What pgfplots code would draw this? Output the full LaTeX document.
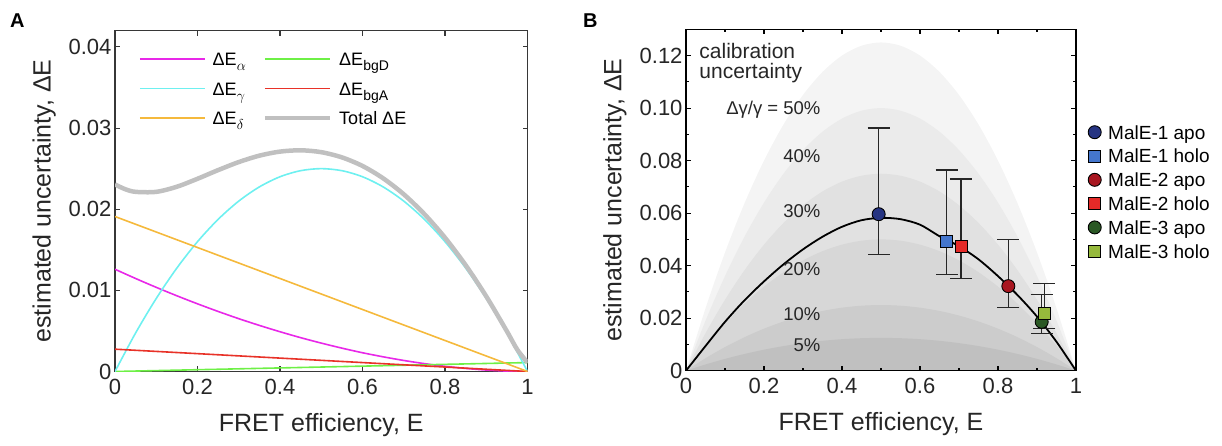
\documentclass[border=0pt]{standalone}
\usepackage{pgfplots}
\pgfplotsset{compat=1.18}
\usepackage{fontspec}
\setmainfont{Liberation Sans}
\definecolor{txt}{RGB}{38,38,38}
\definecolor{cmag}{RGB}{232,40,232}
\definecolor{ccya}{RGB}{110,240,240}
\definecolor{cora}{RGB}{245,185,60}
\definecolor{cgre}{RGB}{110,240,70}
\definecolor{cred}{RGB}{232,50,40}
\definecolor{cgry}{RGB}{192,192,192}
\definecolor{frameA}{RGB}{55,55,55}
\definecolor{g50}{RGB}{244,244,244}
\definecolor{g40}{RGB}{235,235,235}
\definecolor{g30}{RGB}{225,225,225}
\definecolor{g20}{RGB}{215,215,215}
\definecolor{g10}{RGB}{204,204,204}
\definecolor{g05}{RGB}{192,192,192}
\definecolor{mnavy}{RGB}{38,52,130}
\definecolor{mblue}{RGB}{68,118,205}
\definecolor{mdred}{RGB}{168,22,32}
\definecolor{mred}{RGB}{228,42,40}
\definecolor{mdgreen}{RGB}{42,88,36}
\definecolor{molive}{RGB}{150,185,60}
\newcommand{\lsub}[1]{\raisebox{-5pt}{\fontsize{14}{14}\selectfont #1}}
\newcommand{\strA}{\rule{0pt}{15.7pt}}
\newcommand{\strB}{\rule[-5pt]{0pt}{23.6pt}}
\begin{document}
\begin{tikzpicture}[x=1pt,y=1pt]
\useasboundingbox (0,0) rectangle (1222,446);
\node[anchor=north west, inner sep=0pt, font=\fontsize{20}{24}\selectfont\bfseries] at (10,432) {A};
\node[anchor=north west, inner sep=0pt, font=\fontsize{20}{24}\selectfont\bfseries] at (583,432) {B};
% ---------------- Panel A ----------------
\begin{axis}[
  at={(115pt,74.5pt)}, anchor=south west, scale only axis,
  width=412.5pt, height=340.8pt,
  xmin=0, xmax=1, ymin=0, ymax=0.042,
  scaled y ticks=false, scaled x ticks=false,
  xtick={0,0.2,0.4,0.6,0.8,1}, xticklabels={0,0.2,0.4,0.6,0.8,1},
  ytick={0,0.01,0.02,0.03,0.04}, yticklabels={0,0.01,0.02,0.03,0.04},
  tick align=inside, major tick length=5pt,
  axis line style={line width=1.2pt, frameA},
  tick style={line width=1.1pt, frameA},
  /pgf/number format/assume math mode=true,
  tick label style={font=\fontsize{22}{26}\selectfont, text=txt},
  xticklabel style={yshift=-4pt},
  label style={font=\fontsize{25}{30}\selectfont, text=txt},
  xlabel={FRET efficiency, E},
  ylabel={estimated uncertainty, ΔE},
  xlabel style={at={(axis description cs:0.5,-0.157)}, anchor=center},
  ylabel style={at={(axis description cs:-0.172,0.5)}, anchor=center},
  legend columns=2,
  legend cell align=left,
  legend style={draw=none, fill=none, inner sep=0pt,
    at={(axis description cs:0.058,0.9431)}, anchor=north west,
    font=\fontsize{18}{20}\selectfont,
    nodes={inner sep=0pt},
    row sep=12.3pt, column sep=7pt},
]
\addplot[cmag, line width=1.6pt, smooth,
  legend image code/.code={\draw[cmag, line width=1.6pt] (0pt,0pt) -- (65pt,0pt);}] coordinates {
(0,0.01260) (0.05,0.01146) (0.1,0.01037) (0.15,0.00933) (0.2,0.00834) (0.25,0.00740)
(0.3,0.00651) (0.35,0.00568) (0.4,0.00490) (0.45,0.00417) (0.5,0.00350) (0.55,0.00288)
(0.6,0.00231) (0.65,0.00181) (0.7,0.00136) (0.75,0.00097) (0.8,0.00064) (0.85,0.00038)
(0.9,0.00018) (0.95,0.00005) (1,0)};
\addlegendentry{\makebox[43pt][l]{ΔE\lsub{$\alpha$}}\strA}
\addplot[cgre, line width=1.6pt,
  legend image code/.code={\draw[cgre, line width=1.6pt] (0pt,0pt) -- (65pt,0pt);}] coordinates {(0,0) (1,0.0011)};
\addlegendentry{ΔE\lsub{bgD}\strA}
\addplot[ccya, line width=1.6pt, smooth,
  legend image code/.code={\draw[ccya, line width=1.6pt] (0pt,0pt) -- (65pt,0pt);}] coordinates {
(0,0) (0.05,0.00475) (0.1,0.009) (0.15,0.01275) (0.2,0.016) (0.25,0.01875) (0.3,0.021)
(0.35,0.02275) (0.4,0.024) (0.45,0.02475) (0.5,0.025) (0.55,0.02475) (0.6,0.024)
(0.65,0.02275) (0.7,0.021) (0.75,0.01875) (0.8,0.016) (0.85,0.01275) (0.9,0.009)
(0.95,0.00475) (1,0)};
\addlegendentry{\makebox[43pt][l]{ΔE\lsub{$\gamma$}}\strA}
\addplot[cred, line width=1.6pt,
  legend image code/.code={\draw[cred, line width=1.6pt] (0pt,0pt) -- (65pt,0pt);}] coordinates {(0,0.00275) (1,0)};
\addlegendentry{ΔE\lsub{bgA}\strA}
\addplot[cora, line width=1.6pt,
  legend image code/.code={\draw[cora, line width=1.6pt] (0pt,0pt) -- (65pt,0pt);}] coordinates {(0,0.0191) (1,0)};
\addlegendentry{\makebox[43pt][l]{ΔE\lsub{$\delta$}}\strA}
\addplot[cgry, line width=4.5pt, smooth,
  legend image code/.code={\draw[cgry, line width=4.5pt] (0pt,0pt) -- (65pt,0pt);}] coordinates {
(0,0.02305) (0.025,0.02246) (0.05,0.02214) (0.1,0.02214) (0.15,0.02277) (0.2,0.02375)
(0.25,0.02482) (0.3,0.02581) (0.35,0.02660) (0.4,0.02710) (0.45,0.02726) (0.5,0.02703)
(0.55,0.02639) (0.6,0.02533) (0.65,0.02381) (0.7,0.02184) (0.75,0.01940) (0.8,0.01649)
(0.85,0.01311) (0.9,0.00926) (0.95,0.00496) (0.975,0.00271) (1,0.0011)};
\addlegendentry{Total ΔE\strA}
\end{axis}
% ---------------- Panel B ----------------
\begin{axis}[
  at={(686pt,75.3pt)}, anchor=south west, scale only axis,
  width=390pt, height=341.4pt,
  xmin=0, xmax=1, ymin=0, ymax=0.13,
  scaled y ticks=false, scaled x ticks=false,
  axis on top,
  xtick={0,0.2,0.4,0.6,0.8,1}, xticklabels={0,0.2,0.4,0.6,0.8,1},
  minor xtick={0.1,0.3,0.5,0.7,0.9},
  ytick={0,0.02,0.04,0.06,0.08,0.1,0.12}, yticklabels={0,0.02,0.04,0.06,0.08,0.10,0.12},
  minor ytick={0.01,0.03,0.05,0.07,0.09,0.11},
  tick align=inside, major tick length=5pt, minor tick length=3pt,
  axis line style={line width=1.2pt, black},
  tick style={line width=1.1pt, black},
  /pgf/number format/assume math mode=true,
  tick label style={font=\fontsize{22}{26}\selectfont, text=txt},
  xticklabel style={yshift=-4pt},
  label style={font=\fontsize{25}{30}\selectfont, text=txt},
  xlabel={FRET efficiency, E},
  ylabel={estimated uncertainty, ΔE},
  xlabel style={at={(axis description cs:0.5,-0.157)}, anchor=center},
  ylabel style={at={(axis description cs:-0.182,0.5)}, anchor=center},
  legend cell align=left,
  legend image code/.code={\draw[mark repeat=2,mark phase=2,#1] plot coordinates {(0pt,0pt) (7pt,0pt) (14pt,0pt)};},
  legend style={draw=none, fill=none, inner sep=0pt,
    at={(axis description cs:1.0308,0.7337)}, anchor=north west,
    font=\fontsize{19}{21}\selectfont,
    nodes={inner sep=0pt, text depth=},
    row sep=0.2pt, column sep=7pt},
]
\addplot[fill=g50, draw=none, smooth, forget plot] coordinates {
(0,0) (0.05,0.02375) (0.1,0.045) (0.15,0.06375) (0.2,0.08) (0.25,0.09375) (0.3,0.105)
(0.35,0.11375) (0.4,0.12) (0.45,0.12375) (0.5,0.125) (0.55,0.12375) (0.6,0.12)
(0.65,0.11375) (0.7,0.105) (0.75,0.09375) (0.8,0.08) (0.85,0.06375) (0.9,0.045)
(0.95,0.02375) (1,0)} \closedcycle;
\addplot[fill=g40, draw=none, smooth, forget plot] coordinates {
(0,0) (0.05,0.019) (0.1,0.036) (0.15,0.051) (0.2,0.064) (0.25,0.075) (0.3,0.084)
(0.35,0.091) (0.4,0.096) (0.45,0.099) (0.5,0.1) (0.55,0.099) (0.6,0.096)
(0.65,0.091) (0.7,0.084) (0.75,0.075) (0.8,0.064) (0.85,0.051) (0.9,0.036)
(0.95,0.019) (1,0)} \closedcycle;
\addplot[fill=g30, draw=none, smooth, forget plot] coordinates {
(0,0) (0.05,0.01425) (0.1,0.027) (0.15,0.03825) (0.2,0.048) (0.25,0.05625) (0.3,0.063)
(0.35,0.06825) (0.4,0.072) (0.45,0.07425) (0.5,0.075) (0.55,0.07425) (0.6,0.072)
(0.65,0.06825) (0.7,0.063) (0.75,0.05625) (0.8,0.048) (0.85,0.03825) (0.9,0.027)
(0.95,0.01425) (1,0)} \closedcycle;
\addplot[fill=g20, draw=none, smooth, forget plot] coordinates {
(0,0) (0.05,0.0095) (0.1,0.018) (0.15,0.0255) (0.2,0.032) (0.25,0.0375) (0.3,0.042)
(0.35,0.0455) (0.4,0.048) (0.45,0.0495) (0.5,0.05) (0.55,0.0495) (0.6,0.048)
(0.65,0.0455) (0.7,0.042) (0.75,0.0375) (0.8,0.032) (0.85,0.0255) (0.9,0.018)
(0.95,0.0095) (1,0)} \closedcycle;
\addplot[fill=g10, draw=none, smooth, forget plot] coordinates {
(0,0) (0.05,0.00475) (0.1,0.009) (0.15,0.01275) (0.2,0.016) (0.25,0.01875) (0.3,0.021)
(0.35,0.02275) (0.4,0.024) (0.45,0.02475) (0.5,0.025) (0.55,0.02475) (0.6,0.024)
(0.65,0.02275) (0.7,0.021) (0.75,0.01875) (0.8,0.016) (0.85,0.01275) (0.9,0.009)
(0.95,0.00475) (1,0)} \closedcycle;
\addplot[fill=g05, draw=none, smooth, forget plot] coordinates {
(0,0) (0.05,0.002375) (0.1,0.0045) (0.15,0.006375) (0.2,0.008) (0.25,0.009375) (0.3,0.0105)
(0.35,0.011375) (0.4,0.012) (0.45,0.012375) (0.5,0.0125) (0.55,0.012375) (0.6,0.012)
(0.65,0.011375) (0.7,0.0105) (0.75,0.009375) (0.8,0.008) (0.85,0.006375) (0.9,0.0045)
(0.95,0.002375) (1,0)} \closedcycle;
\addplot[black, line width=1.8pt, smooth, forget plot] coordinates {
(0,0) (0.05,0.0094) (0.1,0.0186) (0.15,0.0268) (0.2,0.0340) (0.25,0.0405) (0.3,0.0462)
(0.35,0.0510) (0.4,0.0548) (0.45,0.0573) (0.5,0.0582) (0.55,0.0577) (0.6,0.0556)
(0.65,0.0512) (0.7,0.0474) (0.75,0.0424) (0.8,0.0360) (0.85,0.0288) (0.9,0.0206)
(0.95,0.0110) (1,0)};
% error bars
\addplot[forget plot, draw=none, mark=none,
  error bars/.cd, y dir=both, y explicit,
  error bar style={line width=1.3pt, txt},
  error mark options={line width=1.3pt, txt, mark size=11pt, rotate=90}]
  coordinates {
  (0.494,0.0596) += (0,0.0328) -= (0,0.0154)
  (0.668,0.0492) += (0,0.0272) -= (0,0.0127)
  (0.8265,0.0322) += (0,0.0177) -= (0,0.0082)
  (0.705,0.0472) += (0,0.0258) -= (0,0.0122)
  (0.912,0.0186) += (0,0.0103) -= (0,0.0044)
  (0.919,0.0217) += (0,0.0116) -= (0,0.0056)};
% markers
\addplot[only marks, mark=*, mark size=6.5pt, mark options={fill=mnavy, draw=black, line width=0.9pt}] coordinates {(0.494,0.0596)};
\addlegendentry{MalE-1 apo\strB}
\addplot[only marks, mark=square*, mark size=6pt, mark options={fill=mblue, draw=black, line width=0.9pt}] coordinates {(0.668,0.0492)};
\addlegendentry{MalE-1 holo\strB}
\addplot[only marks, mark=*, mark size=6.5pt, mark options={fill=mdred, draw=black, line width=0.9pt}] coordinates {(0.8265,0.0322)};
\addlegendentry{MalE-2 apo\strB}
\addplot[only marks, mark=square*, mark size=6pt, mark options={fill=mred, draw=black, line width=0.9pt}] coordinates {(0.705,0.0472)};
\addlegendentry{MalE-2 holo\strB}
\addplot[only marks, mark=*, mark size=6.5pt, mark options={fill=mdgreen, draw=black, line width=0.9pt}] coordinates {(0.912,0.0186)};
\addlegendentry{MalE-3 apo\strB}
\addplot[only marks, mark=square*, mark size=6pt, mark options={fill=molive, draw=black, line width=0.9pt}] coordinates {(0.919,0.0217)};
\addlegendentry{MalE-3 holo\strB}
% text labels
\node[anchor=west, inner sep=0pt, font=\fontsize{21}{22}\selectfont, text=txt] at (axis cs:0.034,0.1217) {calibration};
\node[anchor=west, inner sep=0pt, font=\fontsize{21}{22}\selectfont, text=txt] at (axis cs:0.034,0.1133) {uncertainty};
\node[anchor=east, inner sep=0pt, font=\fontsize{18.5}{20}\selectfont, text=txt] at (axis cs:0.345,0.0994) {Δγ/γ = 50\%};
\node[anchor=east, inner sep=0pt, font=\fontsize{18.5}{20}\selectfont, text=txt] at (axis cs:0.345,0.0817) {40\%};
\node[anchor=east, inner sep=0pt, font=\fontsize{18.5}{20}\selectfont, text=txt] at (axis cs:0.345,0.0609) {30\%};
\node[anchor=east, inner sep=0pt, font=\fontsize{18.5}{20}\selectfont, text=txt] at (axis cs:0.345,0.0388) {20\%};
\node[anchor=east, inner sep=0pt, font=\fontsize{18.5}{20}\selectfont, text=txt] at (axis cs:0.345,0.0215) {10\%};
\node[anchor=east, inner sep=0pt, font=\fontsize{18.5}{20}\selectfont, text=txt] at (axis cs:0.345,0.0097) {5\%};
\end{axis}
\end{tikzpicture}
\end{document}
